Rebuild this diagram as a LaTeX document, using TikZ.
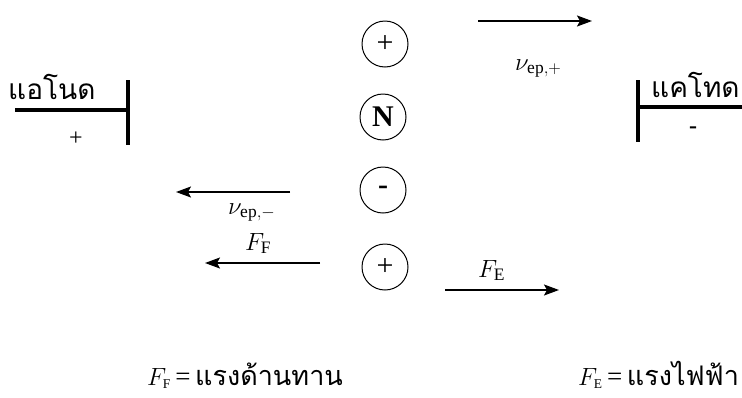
\documentclass[tikz,border=0pt]{standalone}
\usepackage{fontspec}
\setmainfont{Liberation Serif}
\newfontfamily\thaifont[Script=Thai]{Loma}
\usetikzlibrary{arrows.meta}
\tikzset{
  electrode/.style={line width=4.5pt},
  ion/.style={circle,draw,line width=1pt,minimum size=46pt,inner sep=0pt,font=\fontsize{30}{30}\selectfont},
  arrowline/.style={line width=1.5pt,-{Stealth[length=15pt,width=11pt,inset=3pt]}},
  thai/.style={font=\fontsize{28}{30}\selectfont\thaifont,inner sep=0pt},
  lbl/.style={font=\fontsize{25}{27}\selectfont,inner sep=0pt},
  legend/.style={font=\fontsize{27}{29}\selectfont,inner sep=0pt},
  sign/.style={font=\fontsize{24}{26}\selectfont,inner sep=0pt}
}
\begin{document}
\begin{tikzpicture}[x=1pt,y=1pt]
\useasboundingbox (0,0) rectangle (742,-397);
% anode
\coordinate (aL) at (15,-110);
\coordinate (aJ) at (128,-110);
\coordinate (aT) at (128,-80);
\coordinate (aB) at (128,-145);
\draw[electrode] (aL) -- (aJ);
\draw[electrode] (aT) -- (aB);
\node[thai,anchor=base west] (anode) at (8,-99) {แอโนด};
\node[sign] (aplus) at (76,-139) {+};
% cathode
\coordinate (cR) at (742,-107);
\coordinate (cJ) at (638,-107);
\coordinate (cT) at (638,-80);
\coordinate (cB) at (638,-142);
\draw[electrode] (cJ) -- (cR);
\draw[electrode] (cT) -- (cB);
\node[thai,anchor=base west] (cathode) at (651,-97) {แคโทด};
\node[sign] (cminus) at (693,-130) {\textbf{-}};
% ions
\node[ion] (p1) at (385,-44) {+};
\node[ion] (n) at (383,-117) {\textbf{N}};
\node[ion] (m) at (383,-190) {\textbf{-}};
\node[ion] (p2) at (385,-267) {+};
% velocity arrows
\coordinate (v1s) at (478,-21);
\coordinate (v1e) at (592,-21);
\draw[arrowline] (v1s) -- (v1e);
\node[lbl,anchor=base west] (v1) at (515,-70) {$\nu_{\mathrm{ep},+}$};
\coordinate (v2s) at (290,-192);
\coordinate (v2e) at (176,-192);
\draw[arrowline] (v2s) -- (v2e);
\node[lbl,anchor=base west] (v2) at (228,-214) {$\nu_{\mathrm{ep},-}$};
% forces
\coordinate (ffs) at (320,-263);
\coordinate (ffe) at (205,-263);
\draw[arrowline] (ffs) -- (ffe);
\node[lbl,anchor=base west] (ff) at (245,-250) {$F_{\mathrm{F}}$};
\coordinate (fes) at (445,-290);
\coordinate (fee) at (559,-290);
\draw[arrowline] (fes) -- (fee);
\node[lbl,anchor=base west] (fe) at (478,-277) {$F_{\mathrm{E}}$};
% legend
\node[legend,anchor=base west] (leg1) at (147,-385) {$F_{\scriptscriptstyle\mathrm{F}}$\,=\,{\thaifont แรงด้านทาน}};
\node[legend,anchor=base west] (leg2) at (578,-385) {$F_{\scriptscriptstyle\mathrm{E}}$\,=\,{\thaifont แรงไฟฟ้า}};
\end{tikzpicture}
\end{document}
